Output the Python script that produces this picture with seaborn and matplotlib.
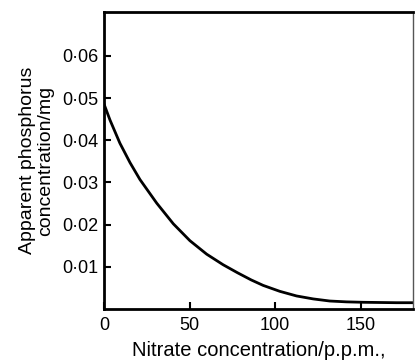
import numpy as np
import pandas as pd
import matplotlib
matplotlib.use("Agg")
import matplotlib.pyplot as plt
import seaborn as sns

# values
nitrate = [0, 3.5, 9.3, 15.2, 21.0, 30.8, 40.5, 50.2, 60.0, 69.6, 78, 86, 93.0,
           102.7, 112.5, 122.2, 131.9, 141.7, 151.4, 170.9, 181.5]
phosphorus = [0.0486, 0.0448, 0.0393, 0.0347, 0.0307, 0.0251, 0.0202, 0.0162, 0.0130,
              0.0105, 0.0086, 0.0069, 0.0056, 0.0042, 0.0031, 0.0024, 0.0019, 0.0017,
              0.0016, 0.0015, 0.0015]

x_ticks = [0, 50, 100, 150]
y_ticks = [0.01, 0.02, 0.03, 0.04, 0.05, 0.06]
y_tick_labels = ["0·01", "0·02", "0·03", "0·04", "0·05", "0·06"]

df = pd.DataFrame({"nitrate": nitrate, "phosphorus": phosphorus})

sns.set_style("ticks")
plt.rcParams["font.family"] = ["Liberation Sans", "DejaVu Sans"]

fig = plt.figure(figsize=(4.15, 3.64), dpi=100)
ax = fig.add_axes([0.2506, 0.151, 0.7444, 0.816])

sns.lineplot(data=df, x="nitrate", y="phosphorus", ax=ax, color="black", linewidth=2.0)

ax.set_xlim(0, 180.5)
ax.set_ylim(0, 0.0704)
ax.set_xticks(x_ticks)
ax.set_xticklabels([str(t) for t in x_ticks])
ax.set_yticks(y_ticks)
ax.set_yticklabels(y_tick_labels)
ax.tick_params(direction="in", length=5, width=1.5, labelsize=13, color="black", labelcolor="black")
ax.tick_params(axis="x", pad=6)
ax.tick_params(axis="y", pad=4)

for side in ["left", "bottom", "top"]:
    ax.spines[side].set_linewidth(2.0)
    ax.spines[side].set_color("black")
ax.spines["right"].set_linewidth(1.0)
ax.spines["right"].set_color("#555555")

ax.set_xlabel("Nitrate concentration/p.p.m.,", fontsize=14.5, labelpad=5, color="black")
ax.set_ylabel("Apparent phosphorus\nconcentration/mg", fontsize=14, labelpad=6,
              color="black", linespacing=1.05)

fig.savefig("out.png", dpi=100)
